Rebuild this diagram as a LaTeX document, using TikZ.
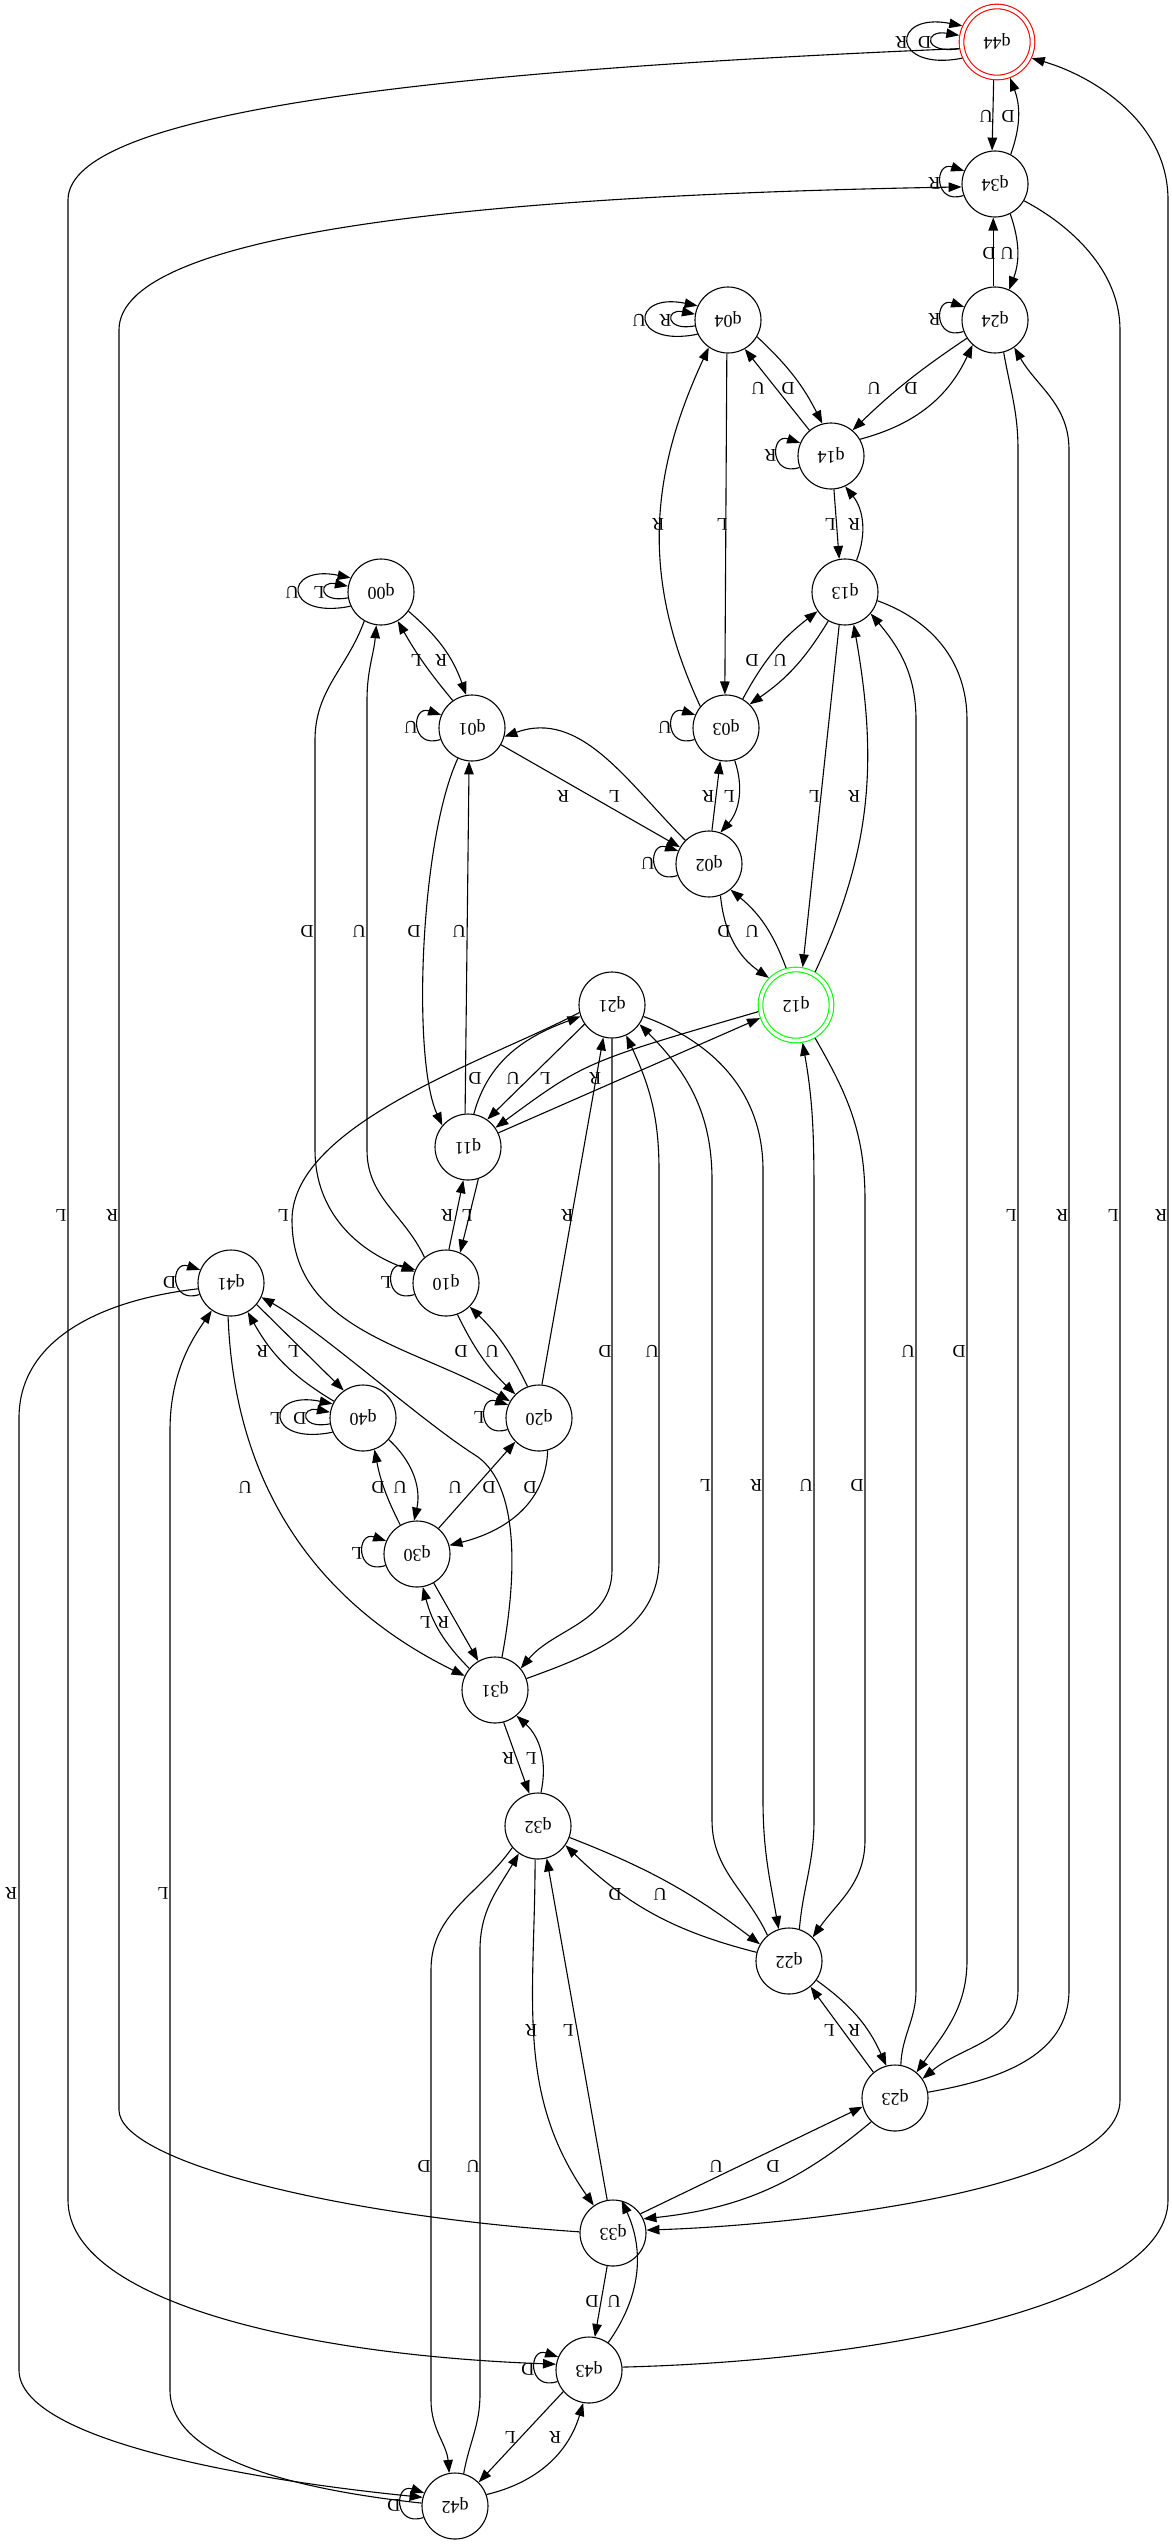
\documentclass[tikz,border=0pt]{standalone}
\usepackage{fontspec}
\setmainfont{Liberation Serif}
\usepackage{graphicx}
\usetikzlibrary{arrows.meta}
\newcommand{\updown}[1]{\rotatebox[origin=c]{180}{#1}}
\tikzset{
  state/.style={circle, draw, line width=1.1pt, minimum size=66pt, inner sep=0pt,
    font=\fontsize{18}{18}\selectfont},
  final/.style={state, double, double distance=3.5pt, minimum size=71pt, outer sep=2.8pt},
  trans/.style={line width=1.1pt, -{Triangle[length=13pt, width=9.5pt]}},
  lbl/.style={inner sep=0pt, font=\fontsize{18}{18}\selectfont},
}

\begin{document}
\begin{tikzpicture}[x=1pt, y=1pt]
  \useasboundingbox (0,0) rectangle (1172,-2545);

  % states
  \node[final, draw=red] (q44) at (997,-42) {\updown{q44}};
  \node[state] (q34) at (995,-184) {\updown{q34}};
  \node[state] (q24) at (995,-320) {\updown{q24}};
  \node[state] (q04) at (728,-320) {\updown{q04}};
  \node[state] (q14) at (831,-456) {\updown{q14}};
  \node[state] (q00) at (381,-592) {\updown{q00}};
  \node[state] (q13) at (845,-592) {\updown{q13}};
  \node[state] (q01) at (472,-728) {\updown{q01}};
  \node[state] (q03) at (726,-728) {\updown{q03}};
  \node[state] (q02) at (709,-864) {\updown{q02}};
  \node[state] (q21) at (612,-1005) {\updown{q21}};
  \node[final, draw=green] (q12) at (796,-1005) {\updown{q12}};
  \node[state] (q11) at (468,-1147) {\updown{q11}};
  \node[state] (q41) at (231,-1283) {\updown{q41}};
  \node[state] (q10) at (446,-1283) {\updown{q10}};
  \node[state] (q40) at (363,-1418) {\updown{q40}};
  \node[state] (q20) at (539,-1418) {\updown{q20}};
  \node[state] (q30) at (417,-1554) {\updown{q30}};
  \node[state] (q31) at (495,-1690) {\updown{q31}};
  \node[state] (q32) at (538,-1826) {\updown{q32}};
  \node[state] (q22) at (789,-1961) {\updown{q22}};
  \node[state] (q23) at (895,-2098) {\updown{q23}};
  \node[state] (q33) at (613,-2233) {\updown{q33}};
  \node[state] (q43) at (589,-2370) {\updown{q43}};
  \node[state] (q42) at (455,-2506) {\updown{q42}};

  % self loops
  \draw[trans] (q44.190) .. controls +(-36,-6) and +(-36,6) .. (q44.170) node[lbl, pos=.5, left=.5pt] {\updown{D}};
  \draw[trans] (q44.205) .. controls +(-72,-14) and +(-72,14) .. (q44.155) node[lbl, pos=.5, left=.5pt] {\updown{R}};
  \draw[trans] (q34.200) .. controls +(-30,-10) and +(-30,10) .. (q34.157) node[lbl, pos=.5, left=.5pt] {\updown{R}};
  \draw[trans] (q24.200) .. controls +(-30,-10) and +(-30,10) .. (q24.157) node[lbl, pos=.5, left=.5pt] {\updown{R}};
  \draw[trans] (q04.190) .. controls +(-30,-6) and +(-30,6) .. (q04.170) node[lbl, pos=.5, left=.5pt] {\updown{R}};
  \draw[trans] (q04.205) .. controls +(-68,-14) and +(-68,14) .. (q04.155) node[lbl, pos=.5, left=.5pt] {\updown{U}};
  \draw[trans] (q14.200) .. controls +(-30,-10) and +(-30,10) .. (q14.157) node[lbl, pos=.5, left=.5pt] {\updown{R}};
  \draw[trans] (q00.190) .. controls +(-30,-6) and +(-30,6) .. (q00.170) node[lbl, pos=.5, left=.5pt] {\updown{L}};
  \draw[trans] (q00.205) .. controls +(-68,-14) and +(-68,14) .. (q00.155) node[lbl, pos=.5, left=.5pt] {\updown{U}};
  \draw[trans] (q01.200) .. controls +(-30,-10) and +(-30,10) .. (q01.157) node[lbl, pos=.5, left=.5pt] {\updown{U}};
  \draw[trans] (q03.200) .. controls +(-30,-10) and +(-30,10) .. (q03.157) node[lbl, pos=.5, left=.5pt] {\updown{U}};
  \draw[trans] (q02.200) .. controls +(-30,-10) and +(-30,10) .. (q02.157) node[lbl, pos=.5, left=.5pt] {\updown{U}};
  \draw[trans] (q41.200) .. controls +(-30,-10) and +(-30,10) .. (q41.157) node[lbl, pos=.5, left=.5pt] {\updown{D}};
  \draw[trans] (q10.200) .. controls +(-30,-10) and +(-30,10) .. (q10.157) node[lbl, pos=.5, left=.5pt] {\updown{L}};
  \draw[trans] (q40.190) .. controls +(-30,-6) and +(-30,6) .. (q40.170) node[lbl, pos=.5, left=.5pt] {\updown{D}};
  \draw[trans] (q40.205) .. controls +(-68,-14) and +(-68,14) .. (q40.155) node[lbl, pos=.5, left=.5pt] {\updown{L}};
  \draw[trans] (q20.200) .. controls +(-30,-10) and +(-30,10) .. (q20.157) node[lbl, pos=.5, left=.5pt] {\updown{L}};
  \draw[trans] (q30.200) .. controls +(-30,-10) and +(-30,10) .. (q30.157) node[lbl, pos=.5, left=.5pt] {\updown{L}};
  \draw[trans] (q43.200) .. controls +(-30,-10) and +(-30,10) .. (q43.157) node[lbl, pos=.5, left=.5pt] {\updown{D}};
  \draw[trans] (q42.200) .. controls +(-30,-10) and +(-30,10) .. (q42.157) node[lbl, pos=.5, left=.5pt] {\updown{D}};

  % short transitions
  \draw[trans] (q44.265) -- (q34.95) node[lbl] at (986,-116) {\updown{U}};
  \draw[trans] (q34.62) to[bend right=20] (q44.290) node[lbl] at (1008,-116) {\updown{D}};
  \draw[trans] (q24.93) -- (q34.267) node[lbl] at (989,-253) {\updown{D}};
  \draw[trans] (q34.297) to[bend left=20] (q24.65) node[lbl] at (1007,-253) {\updown{U}};
  \draw[trans] (q24.213) to[bend right=5] (q14.50) node[lbl] at (874,-388) {\updown{U}};
  \draw[trans] (q14.30) to[bend right=25] (q24.228) node[lbl] at (911,-388) {\updown{D}};
  \draw[trans] (q14.130) -- (q04.300) node[lbl] at (758,-388) {\updown{U}};
  \draw[trans] (q04.330) to[bend left=10] (q14.105) node[lbl] at (788,-388) {\updown{D}};
  \draw[trans] (q04.268) -- (q03.92) node[lbl] at (722,-524) {\updown{L}};
  \draw[trans] (q03.140) to[out=115, in=-115] (q04.235) node[lbl] at (658,-524) {\updown{R}};
  \draw[trans] (q14.275) -- (q13.100) node[lbl] at (830,-524) {\updown{L}};
  \draw[trans] (q13.70) to[bend right=30] (q14.295) node[lbl] at (854,-524) {\updown{R}};
  \draw[trans] (q01.125) to[bend left=5] (q00.300) node[lbl] at (416,-660) {\updown{L}};
  \draw[trans] (q00.325) to[bend left=15] (q01.100) node[lbl] at (441,-660) {\updown{R}};
  \draw[trans] (q03.60) to[bend left=12] (q13.215) node[lbl] at (752,-660) {\updown{D}};
  \draw[trans] (q13.240) to[bend left=12] (q03.45) node[lbl] at (780,-660) {\updown{U}};
  \draw[trans] (q01.330) -- (q02.150) node[lbl] at (563,-796) {\updown{R}};
  \draw[trans] (q02.135) to[out=135, in=20] (q01.345) node[lbl] at (614,-796) {\updown{L}};
  \draw[trans] (q02.85) -- (q03.260) node[lbl] at (708,-796) {\updown{R}};
  \draw[trans] (q03.285) to[bend left=30] (q02.70) node[lbl] at (729,-796) {\updown{L}};
  \draw[trans] (q13.260) -- (q12.80) node[lbl] at (814,-796) {\updown{L}};
  \draw[trans] (q12.60) to[out=65, in=-80] (q13.285) node[lbl] at (854,-796) {\updown{R}};
  \draw[trans] (q01.245) .. controls (420,-840) and (412,-1060) .. (q11.140) node[lbl] at (414,-931) {\updown{D}};
  \draw[trans] (q11.95) -- (q01.265) node[lbl] at (459,-931) {\updown{U}};
  \draw[trans] (q02.290) to[bend right=25] (q12.135) node[lbl] at (724,-931) {\updown{D}};
  \draw[trans] (q12.105) to[bend right=15] (q02.310) node[lbl] at (752,-931) {\updown{U}};
  \draw[trans] (q11.80) to[out=75, in=200] (q21.200) node[lbl] at (475,-1078) {\updown{D}};
  \draw[trans] (q21.215) -- (q11.55) node[lbl] at (513,-1078) {\updown{U}};
  \draw[trans] (q12.190) .. controls (585,-1062) .. (q11.35) node[lbl] at (545,-1078) {\updown{L}};
  \draw[trans] (q11.25) -- (q12.200) node[lbl] at (595,-1078) {\updown{R}};
  \draw[trans] (q10.85) -- (q11.262) node[lbl] at (447,-1215) {\updown{R}};
  \draw[trans] (q11.288) -- (q10.65) node[lbl] at (467,-1215) {\updown{L}};
  \draw[trans] (q40.150) to[bend left=15] (q41.300) node[lbl] at (262,-1351) {\updown{R}};
  \draw[trans] (q41.320) -- (q40.125) node[lbl] at (293,-1351) {\updown{L}};
  \draw[trans] (q10.290) to[bend right=10] (q20.135) node[lbl] at (461,-1351) {\updown{D}};
  \draw[trans] (q20.110) to[bend right=10] (q10.315) node[lbl] at (492,-1351) {\updown{U}};
  \draw[trans] (q20.85) -- (q21.255) node[lbl] at (567,-1215) {\updown{R}};
  \draw[trans] (q30.120) to[bend left=8] (q40.290) node[lbl] at (378,-1487) {\updown{D}};
  \draw[trans] (q40.320) to[bend left=30] (q30.95) node[lbl] at (400,-1487) {\updown{U}};
  \draw[trans] (q30.50) -- (q20.225) node[lbl] at (455,-1487) {\updown{U}};
  \draw[trans] (q20.285) .. controls (546,-1500) and (510,-1530) .. (q30.15) node[lbl] at (530,-1487) {\updown{D}};
  \draw[trans] (q31.140) to[bend left=15] (q30.280) node[lbl] at (425,-1622) {\updown{L}};
  \draw[trans] (q30.300) -- (q31.120) node[lbl] at (443,-1622) {\updown{R}};
  \draw[trans] (q31.285) -- (q32.105) node[lbl] at (508,-1758) {\updown{R}};
  \draw[trans] (q32.85) to[bend right=30] (q31.310) node[lbl] at (531,-1758) {\updown{L}};
  \draw[trans] (q22.165) to[bend left=15] (q32.325) node[lbl] at (615,-1894) {\updown{D}};
  \draw[trans] (q32.340) to[bend left=8] (q22.150) node[lbl] at (660,-1894) {\updown{U}};
  \draw[trans] (q32.265) to[out=-90, in=125] (q33.125) node[lbl] at (531,-2030) {\updown{R}};
  \draw[trans] (q33.100) -- (q32.285) node[lbl] at (568,-2030) {\updown{L}};
  \draw[trans] (q23.130) -- (q22.310) node[lbl] at (829,-2030) {\updown{L}};
  \draw[trans] (q22.325) to[bend left=15] (q23.105) node[lbl] at (854,-2030) {\updown{R}};
  \draw[trans] (q33.35) -- (q23.195) node[lbl] at (716,-2166) {\updown{U}};
  \draw[trans] (q23.225) to[bend left=17] (q33.25) node[lbl] at (773,-2166) {\updown{D}};
  \draw[trans] (q33.260) -- (q43.80) node[lbl] at (592,-2301) {\updown{D}};
  \draw[trans] (q43.55) to[bend right=30] (q33.75) node[lbl] at (614,-2301) {\updown{U}};
  \draw[trans] (q43.220) -- (q42.45) node[lbl] at (510,-2437) {\updown{L}};
  \draw[trans] (q42.20) to[bend right=30] (q43.260) node[lbl] at (555,-2437) {\updown{R}};

  % long transitions
  \draw[trans] (q00.240) to[out=-110, in=90] (315,-740) -- (315,-1150) to[out=-90, in=160] (q10.160) node[lbl] at (307,-931) {\updown{D}};
  \draw[trans] (q10.130) to[out=115, in=-90] (367,-1150) -- (367,-700) to[out=90, in=-95] (q00.262) node[lbl] at (359,-931) {\updown{U}};
  \draw[trans] (q21.193) to[out=208, in=90, looseness=.7] (292,-1220) to[out=-90, in=150] (q20.150) node[lbl] at (283,-1215) {\updown{L}};
  \draw[trans] (q21.270) -- (612,-1570) to[out=-90, in=50] (q31.40) node[lbl] at (605,-1351) {\updown{D}};
  \draw[trans] (q31.20) to[out=20, in=-90] (659,-1560) -- (659,-1170) to[out=90, in=-65] (q21.295) node[lbl] at (652,-1351) {\updown{U}};
  \draw[trans] (q41.265) .. controls (235,-1500) and (330,-1610) .. (q31.155) node[lbl] at (245,-1487) {\updown{U}};
  \draw[trans] (q31.78) .. controls (520,-1560) and (515,-1480) .. (475,-1455) .. controls (420,-1420) and (320,-1330) .. (q41.335) node[lbl] at (489,-1487) {\updown{D}};
  \draw[trans] (q22.130) to[out=115, in=-90] (712,-1820) -- (712,-1180) to[out=90, in=-45] (q21.325) node[lbl] at (705,-1485) {\updown{L}};
  \draw[trans] (q21.340) to[out=-20, in=90] (763,-1170) -- (763,-1800) to[out=-90, in=100] (q22.108) node[lbl] at (756,-1485) {\updown{R}};
  \draw[trans] (q22.72) to[out=85, in=-90] (814,-1820) -- (814,-1200) to[out=90, in=-80] (q12.280) node[lbl] at (806,-1485) {\updown{U}};
  \draw[trans] (q12.300) to[out=-60, in=90] (865,-1200) -- (865,-1840) to[out=-90, in=55] (q22.45) node[lbl] at (857,-1485) {\updown{D}};
  \draw[trans] (q23.80) to[out=88, in=-90] (916,-1990) -- (916,-720) to[out=90, in=-50] (q13.320) node[lbl] at (908,-1351) {\updown{U}};
  \draw[trans] (q13.345) to[out=-20, in=90] (967,-720) -- (967,-1960) to[out=-90, in=55] (q23.50) node[lbl] at (959,-1351) {\updown{D}};
  \draw[trans] (q24.285) to[out=-80, in=90] (1018,-450) -- (1018,-1990) to[out=-90, in=40] (q23.35) node[lbl] at (1011,-1215) {\updown{L}};
  \draw[trans] (q23.10) to[out=10, in=-90] (1069,-1990) -- (1069,-450) to[out=90, in=-60] (q24.305) node[lbl] at (1062,-1215) {\updown{R}};
  \draw[trans] (q34.330) .. controls (1070,-225) and (1120,-270) .. (1120,-330) -- (1120,-2100) .. controls (1120,-2190) and (800,-2225) .. (q33.5) node[lbl] at (1113,-1215) {\updown{L}};
  \draw[trans] (q43.5) .. controls (900,-2360) and (1168,-2300) .. (1168,-2200) -- (1168,-200) .. controls (1168,-120) and (1090,-75) .. (q44.335) node[lbl] at (1161,-1215) {\updown{R}};
  \draw[trans] (q33.178) .. controls (330,-2215) and (119,-2160) .. (119,-2110) -- (119,-330) .. controls (119,-230) and (500,-195) .. (q34.185) node[lbl] at (112,-1215) {\updown{R}};
  \draw[trans] (q44.190) .. controls (450,-70) and (68,-110) .. (68,-200) -- (68,-2200) .. controls (68,-2300) and (300,-2355) .. (q43.170) node[lbl] at (61,-1215) {\updown{L}};
  \draw[trans] (q41.190) .. controls (100,-1300) and (19,-1340) .. (19,-1418) -- (19,-2370) .. controls (19,-2440) and (250,-2480) .. (q42.165) node[lbl] at (11,-1893) {\updown{R}};
  \draw[trans] (q42.175) .. controls (300,-2490) and (170,-2460) .. (170,-2390) -- (170,-1430) .. controls (170,-1370) and (195,-1335) .. (q41.235) node[lbl] at (163,-1893) {\updown{L}};
  \draw[trans] (q32.220) to[out=-125, in=90] (431,-1970) -- (431,-2400) to[out=-90, in=95] (q42.100) node[lbl] at (424,-2166) {\updown{D}};
  \draw[trans] (q42.75) to[out=80, in=-90] (480,-2394) -- (480,-1950) to[out=90, in=-120] (q32.235) node[lbl] at (473,-2166) {\updown{U}};
\end{tikzpicture}
\end{document}
